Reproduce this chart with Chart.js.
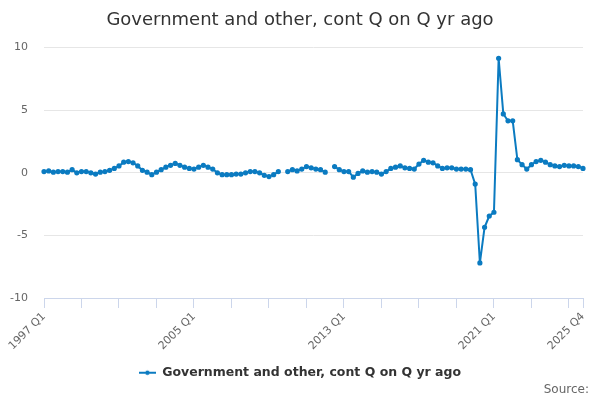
<!DOCTYPE html>
<html>
<head>
<meta charset="utf-8">
<script src="https://cdn.jsdelivr.net/npm/chart.js@4.4.1/dist/chart.umd.min.js"></script>
<style>
  html, body { margin: 0; padding: 0; background: #fff; }
  #wrap { width: 600px; height: 400px; }
</style>
</head>
<body>
<div id="wrap"><canvas id="chart"></canvas></div>
<script>
// Quarterly categories, 1997 Q1 to 2025 Q4
const firstYear = 1997;
const lastYear = 2025;
const quarters = [];
for (let y = firstYear; y <= lastYear; y++) {
  for (let q = 1; q <= 4; q++) quarters.push(y + ' Q' + q);
}

// Government and other, contribution Q on Q a year ago (percentage points)
const govValues = [
  0.1, 0.15, 0.05, 0.1, 0.1, 0.05, 0.25, 0.0, 0.1, 0.1,
  0.0, -0.1, 0.05, 0.1, 0.2, 0.35, 0.55, 0.85, 0.9, 0.8,
  0.55, 0.2, 0.05, -0.15, 0.05, 0.25, 0.45, 0.6, 0.75, 0.6,
  0.45, 0.35, 0.3, 0.45, 0.6, 0.45, 0.3, 0.0, -0.15, -0.15,
  -0.15, -0.1, -0.1, 0.0, 0.1, 0.1, 0.0, -0.2, -0.3, -0.15,
  0.1, null, 0.1, 0.25, 0.15, 0.3, 0.5, 0.4, 0.3, 0.25,
  0.05, null, 0.5, 0.25, 0.1, 0.1, -0.35, -0.05, 0.15, 0.05,
  0.1, 0.05, -0.1, 0.1, 0.35, 0.45, 0.55, 0.4, 0.35, 0.3,
  0.7, 1.0, 0.85, 0.8, 0.55, 0.35, 0.4, 0.4, 0.3, 0.3,
  0.3, 0.25, -0.9, -7.2, -4.35, -3.45, -3.15, 9.15, 4.7, 4.15,
  4.15, 1.05, 0.65, 0.3, 0.65, 0.9, 1.0, 0.85, 0.65, 0.55,
  0.5, 0.6, 0.55, 0.55, 0.5, 0.35
];

// Which x labels get text
const labelledTicks = ['1997 Q1', '2005 Q1', '2013 Q1', '2021 Q1', '2025 Q4'];
const yTicks = [-10, -5, 0, 5, 10];

const blue = '#0b7bc1';
const axisGrey = '#ccd6eb';
const fontFamily = '"DejaVu Sans", sans-serif';

// legend symbol: short line with a dot
function legendIcon() {
  const c = document.createElement('canvas');
  c.width = 17; c.height = 8;
  const g = c.getContext('2d');
  g.strokeStyle = blue;
  g.lineWidth = 2;
  g.beginPath(); g.moveTo(0, 4); g.lineTo(17, 4); g.stroke();
  g.fillStyle = blue;
  g.beginPath(); g.arc(8.5, 4, 2.2, 0, Math.PI * 2); g.fill();
  return c;
}
const icon = legendIcon();

const isMarked = i => i % 8 === 0 || i === quarters.length - 1;

// "Source:" note in the bottom right corner
const sourceNote = {
  id: 'sourceNote',
  afterDraw(chart) {
    const g = chart.ctx;
    g.save();
    g.font = '12px ' + fontFamily;
    g.fillStyle = '#666';
    g.textAlign = 'right';
    g.textBaseline = 'middle';
    g.fillText('Source:', chart.width - 11, chart.height - 10);
    g.restore();
  }
};

const ctx = document.getElementById('chart').getContext('2d');
const chart = new Chart(ctx, {
  type: 'line',
  data: {
    labels: quarters,
    datasets: [{
      label: 'Government and other, cont Q on Q yr ago',
      data: govValues,
      borderColor: blue,
      backgroundColor: blue,
      borderWidth: 2,
      pointRadius: 1.6,
      pointHoverRadius: 3,
      spanGaps: false,
      tension: 0
    }]
  },
  plugins: [sourceNote],
  options: {
    responsive: true,
    maintainAspectRatio: false,
    animation: false,
    layout: { padding: { left: 0, right: 0, top: 0, bottom: 11 } },
    scales: {
      x: {
        offset: false,
        border: { color: axisGrey, width: 1 },
        grid: {
          drawOnChartArea: false,
          drawTicks: true,
          tickLength: 10,
          color: c => isMarked(c.index) ? axisGrey : 'rgba(0,0,0,0)'
        },
        ticks: {
          autoSkip: false,
          minRotation: 45,
          maxRotation: 45,
          padding: 2,
          color: '#666',
          font: { family: fontFamily, size: 11 },
          callback: function (val) {
            const lab = this.getLabelForValue(val);
            return labelledTicks.includes(lab) ? lab : '';
          }
        },
        afterFit: s => { s.height = 65; }
      },
      y: {
        min: -10,
        max: 10,
        border: { display: false },
        grid: { color: '#e6e6e6', drawTicks: false },
        afterBuildTicks: s => { s.ticks = yTicks.map(v => ({ value: v })); },
        ticks: {
          padding: 16,
          color: '#666',
          font: { family: fontFamily, size: 11 }
        },
        afterFit: s => { s.width = 44; }
      },
      // empty spacer on the right so titles stay centred on the canvas
      spacer: {
        type: 'linear',
        position: 'right',
        display: true,
        border: { display: false },
        grid: { display: false },
        ticks: { display: false },
        afterFit: s => { s.width = 17; }
      }
    },
    plugins: {
      title: {
        display: true,
        text: 'Government and other, cont Q on Q yr ago',
        color: '#333',
        font: { family: fontFamily, size: 18, weight: 'normal' },
        padding: { top: 10, bottom: 16 }
      },
      legend: {
        position: 'bottom',
        labels: {
          usePointStyle: true,
          pointStyleWidth: 17,
          padding: 3.5,
          color: '#333',
          font: { family: fontFamily, size: 12.5, weight: 'bold' },
          generateLabels: ch => {
            const items = Chart.defaults.plugins.legend.labels.generateLabels(ch);
            items.forEach(it => { it.pointStyle = icon; });
            return items;
          }
        }
      },
      tooltip: { enabled: true }
    }
  }
});
</script>
</body>
</html>
